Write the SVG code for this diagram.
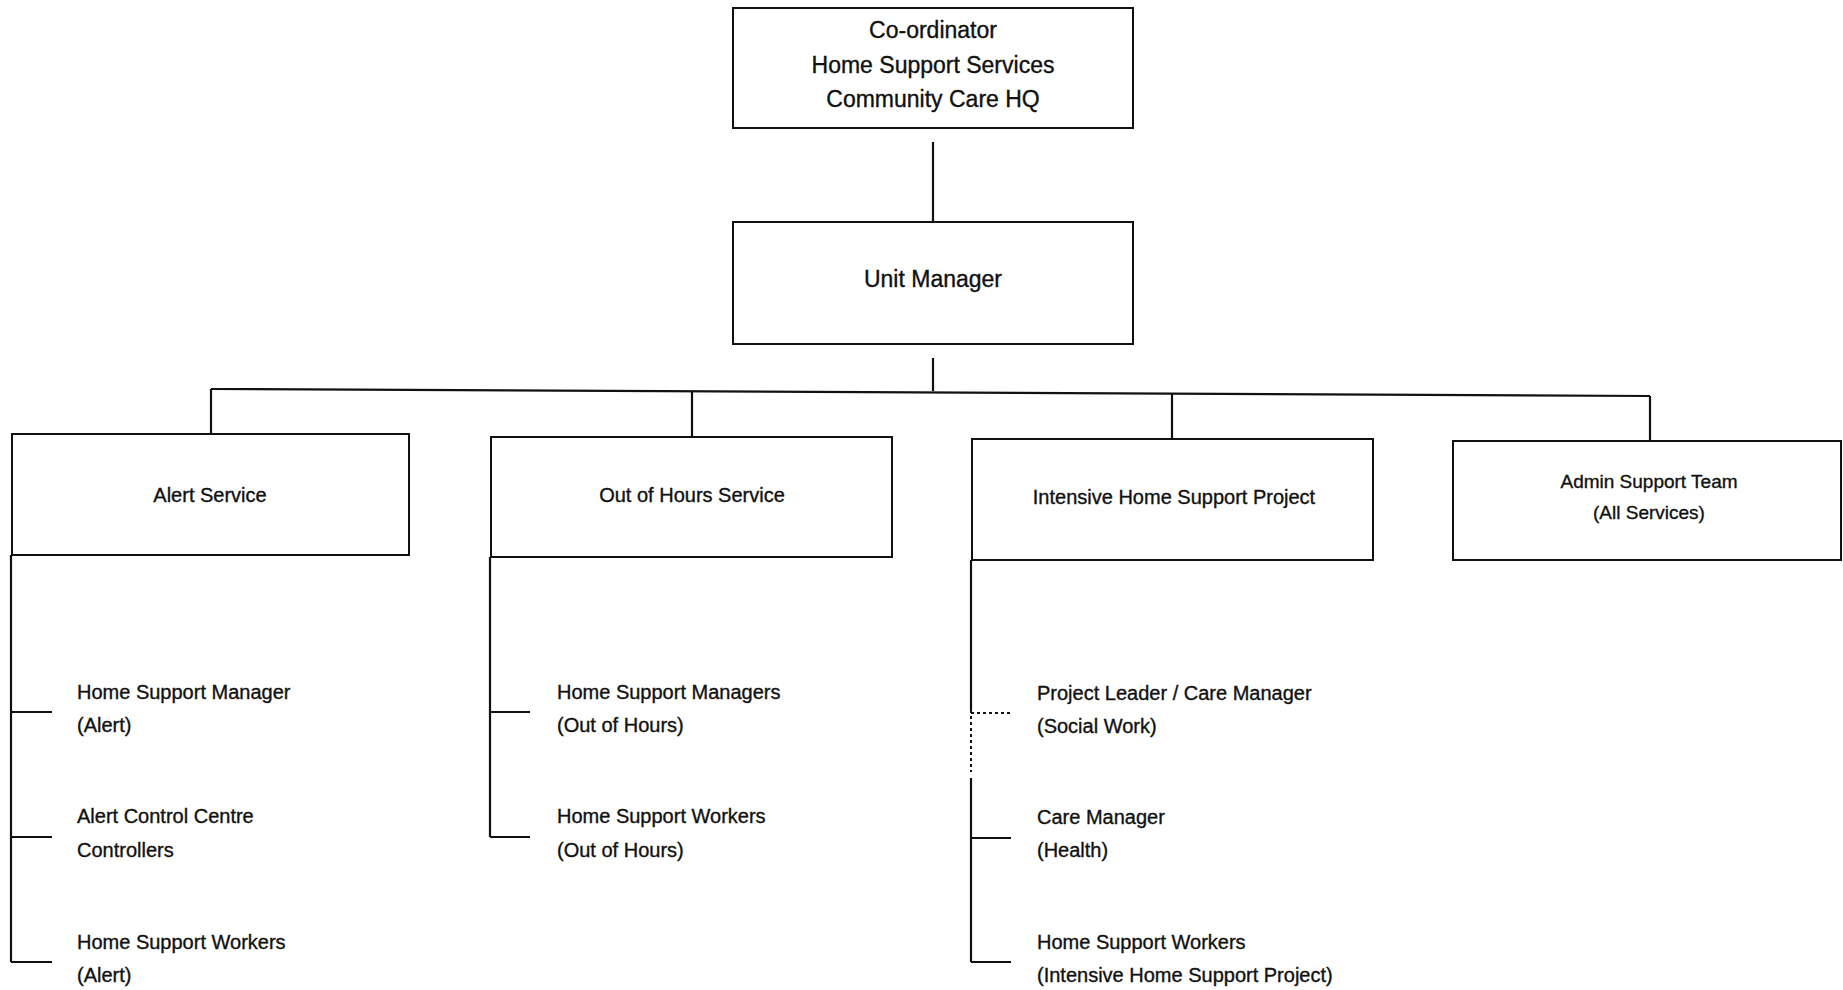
<svg xmlns="http://www.w3.org/2000/svg" width="1843" height="990" viewBox="0 0 1843 990">
<style>
.box{fill:#fff;stroke:#111;stroke-width:2}
.ln{fill:none;stroke:#111;stroke-width:2.2}
.dot{fill:none;stroke:#111;stroke-width:2;stroke-dasharray:3 3}
text{font-family:"Liberation Sans",Arial,sans-serif;fill:#111;stroke:#111;stroke-width:0.35}
.t23{font-size:23px;text-anchor:middle}
.t20m{font-size:20px;text-anchor:middle}
.t19m{font-size:19px;text-anchor:middle}
.t20{font-size:20px}
</style>
<rect width="1843" height="990" fill="#fff"/>
<g id="connectors">
<line class="ln" x1="933" y1="142" x2="933" y2="222"/>
<line class="ln" x1="933" y1="358" x2="933" y2="391"/>
<line class="ln" x1="211" y1="389" x2="1650" y2="396"/>
<line class="ln" x1="211" y1="389" x2="211" y2="434"/>
<line class="ln" x1="692" y1="392" x2="692" y2="437"/>
<line class="ln" x1="1172" y1="393" x2="1172" y2="439"/>
<line class="ln" x1="1650" y1="396" x2="1650" y2="441"/>
<line class="ln" x1="11" y1="555" x2="11" y2="962"/>
<line class="ln" x1="11" y1="712" x2="52" y2="712"/>
<line class="ln" x1="11" y1="837" x2="52" y2="837"/>
<line class="ln" x1="11" y1="962" x2="52" y2="962"/>
<line class="ln" x1="490" y1="557" x2="490" y2="837"/>
<line class="ln" x1="490" y1="712" x2="530" y2="712"/>
<line class="ln" x1="490" y1="837" x2="530" y2="837"/>
<line class="ln" x1="971" y1="560" x2="971" y2="710"/>
<line class="dot" x1="971" y1="710" x2="971" y2="772"/>
<line class="ln" x1="971" y1="778" x2="971" y2="962"/>
<line class="dot" x1="971" y1="713" x2="1011" y2="713"/>
<line class="ln" x1="971" y1="838" x2="1011" y2="838"/>
<line class="ln" x1="971" y1="962" x2="1011" y2="962"/>
</g>
<g id="coordinator">
<rect class="box" x="733" y="8" width="400" height="120"/>
<text class="t23" x="933" y="38">Co-ordinator</text>
<text class="t23" x="933" y="73">Home Support Services</text>
<text class="t23" x="933" y="107">Community Care HQ</text>
</g>
<g id="unit-manager">
<rect class="box" x="733" y="222" width="400" height="122"/>
<text class="t23" x="933" y="287">Unit Manager</text>
</g>
<g id="alert-service">
<rect class="box" x="12" y="434" width="397" height="121"/>
<text class="t20m" x="210" y="502" fill="#333">Alert Service</text>
</g>
<g id="out-of-hours-service">
<rect class="box" x="491" y="437" width="401" height="120"/>
<text class="t20m" x="692" y="502" fill="#333">Out of Hours Service</text>
</g>
<g id="ihsp">
<rect class="box" x="972" y="439" width="401" height="121"/>
<text class="t20m" x="1174" y="504">Intensive Home Support Project</text>
</g>
<g id="admin-support">
<rect class="box" x="1453" y="441" width="388" height="119"/>
<text class="t19m" x="1649" y="488">Admin Support Team</text>
<text class="t19m" x="1649" y="519">(All Services)</text>
</g>
<g id="alert-hsm">
<text class="t20" x="77" y="699">Home Support Manager</text>
<text class="t20" x="77" y="732">(Alert)</text>
</g>
<g id="alert-controllers">
<text class="t20" x="77" y="823">Alert Control Centre</text>
<text class="t20" x="77" y="857">Controllers</text>
</g>
<g id="alert-hsw">
<text class="t20" x="77" y="949">Home Support Workers</text>
<text class="t20" x="77" y="982">(Alert)</text>
</g>
<g id="ooh-hsm">
<text class="t20" x="557" y="699">Home Support Managers</text>
<text class="t20" x="557" y="732">(Out of Hours)</text>
</g>
<g id="ooh-hsw">
<text class="t20" x="557" y="823">Home Support Workers</text>
<text class="t20" x="557" y="857">(Out of Hours)</text>
</g>
<g id="ihsp-leader">
<text class="t20" x="1037" y="700">Project Leader / Care Manager</text>
<text class="t20" x="1037" y="733">(Social Work)</text>
</g>
<g id="ihsp-care-manager">
<text class="t20" x="1037" y="824">Care Manager</text>
<text class="t20" x="1037" y="857">(Health)</text>
</g>
<g id="ihsp-hsw">
<text class="t20" x="1037" y="949">Home Support Workers</text>
<text class="t20" x="1037" y="982">(Intensive Home Support Project)</text>
</g>
</svg>
